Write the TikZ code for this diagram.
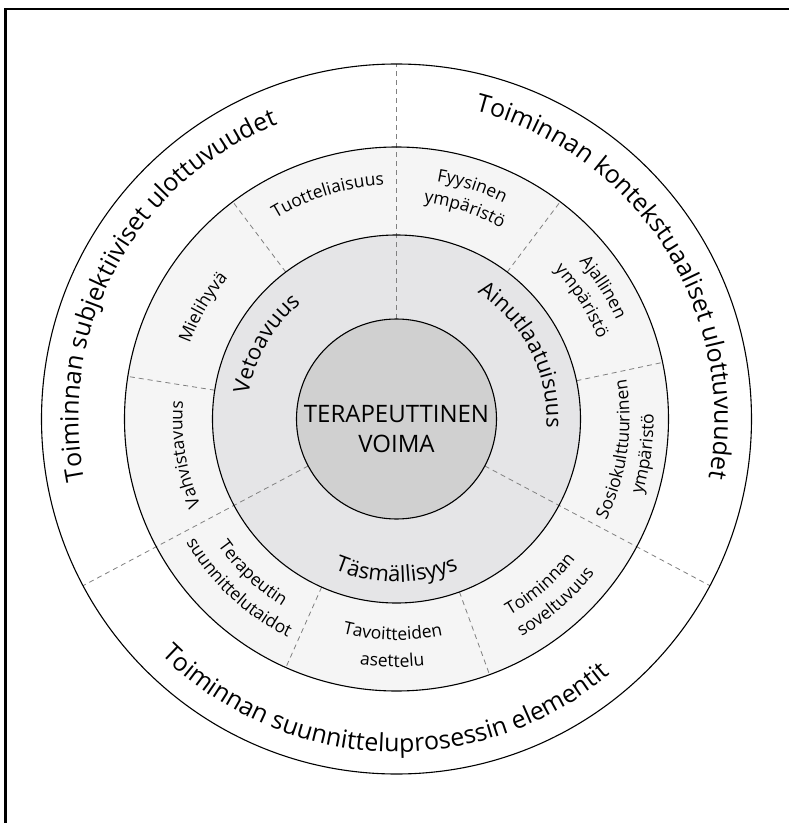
\documentclass[tikz,border=0pt]{standalone}
\usepackage{fontspec}
\setmainfont{Open Sans}
\usetikzlibrary{decorations.text}

\definecolor{coregray}{RGB}{208,208,208}
\definecolor{ringgray}{RGB}{229,229,231}
\definecolor{midgray}{RGB}{245,245,245}

\newcommand{\outerfont}{\fontsize{25}{30}\selectfont}
\newcommand{\ringfont}{\fontsize{22}{26}\selectfont}
\newcommand{\midfont}{\fontsize{17.5}{21}\selectfont}

% text on an arc: radius, middle angle, font, text
\newcommand{\cwtext}[4]{%
  \path[decorate, decoration={text along path, text align=center, text={|#3|#4}}]
    (#2+70:#1) arc[start angle=#2+70, end angle=#2-70, radius=#1];}
\newcommand{\ccwtext}[4]{%
  \path[decorate, decoration={text along path, text align=center, text={|#3|#4}}]
    (#2-70:#1) arc[start angle=#2-70, end angle=#2+70, radius=#1];}

\begin{document}
\begin{tikzpicture}[x=1pt, y=1pt,
  divider/.style={dash pattern=on 5pt off 4pt, draw=gray, line width=0.8pt},
  ring/.style={draw=black, line width=1.1pt}]

  \useasboundingbox (-396.5,-404) rectangle (392.5,419);

  % Define the radii of the circles
  \def\rA{355}
  \def\rB{272}
  \def\rC{184}
  \def\rD{100}

  % Draw the frame
  \draw[line width=2.5pt] (-391,-404) -- (-391,410) -- (392.5,410);

  % Fill the rings
  \fill[white] (0,0) circle (\rA);
  \fill[midgray] (0,0) circle (\rB);
  \fill[ringgray] (0,0) circle (\rC);

  % Draw the dividers
  \foreach \a in {90,208,332}
    \draw[divider] (\a:\rD) -- (\a:\rA);
  \foreach \a in {127,171,53,12,246,290}
    \draw[divider] (\a:\rC) -- (\a:\rB);

  % Draw the circles
  \draw[ring] (0,0) circle (\rA);
  \draw[ring] (0,0) circle (\rB);
  \draw[ring] (0,0) circle (\rC);
  \filldraw[ring, fill=coregray] (0,0) circle (\rD);

  % Centre text
  \node[inner sep=0pt, align=center, font=\fontsize{24}{30}\selectfont] (core) at (0,-10.5)
    {TERAPEUTTINEN\\VOIMA};

  % Outer ring
  \cwtext{318}{151.5}{\outerfont}{Toiminnan subjektiiviset ulottuvuudet}
  \cwtext{318}{32.5}{\outerfont}{Toiminnan kontekstuaaliset ulottuvuudet}
  \ccwtext{333}{267.5}{\outerfont}{Toiminnan suunnitteluprosessin elementit}

  % Gray ring
  \cwtext{150}{150}{\ringfont}{Vetoavuus}
  \cwtext{150}{27}{\ringfont}{Ainutlaatuisuus}
  \ccwtext{163}{270}{\ringfont}{Täsmällisyys}

  % Middle ring
  \cwtext{234}{107}{\midfont}{Tuotteliaisuus}
  \cwtext{220}{150}{\midfont}{Mielihyvä}
  \cwtext{214}{189.5}{\midfont}{Vahvistavuus}
  \cwtext{241}{72}{\midfont}{Fyysinen}
  \cwtext{218}{72}{\midfont}{ympäristö}
  \cwtext{241}{32.5}{\midfont}{Ajallinen}
  \cwtext{217}{32.5}{\midfont}{ympäristö}
  \ccwtext{233}{-8}{\midfont}{Sosiokulttuurinen}
  \ccwtext{257}{-8}{\midfont}{ympäristö}
  \ccwtext{219}{227}{\midfont}{Terapeutin}
  \ccwtext{244}{227}{\midfont}{suunnittelutaidot}
  \ccwtext{221}{269}{\midfont}{Tavoitteiden}
  \ccwtext{248}{269}{\midfont}{asettelu}
  \ccwtext{227}{311}{\midfont}{Toiminnan}
  \ccwtext{251}{311}{\midfont}{soveltuvuus}

\end{tikzpicture}
\end{document}
